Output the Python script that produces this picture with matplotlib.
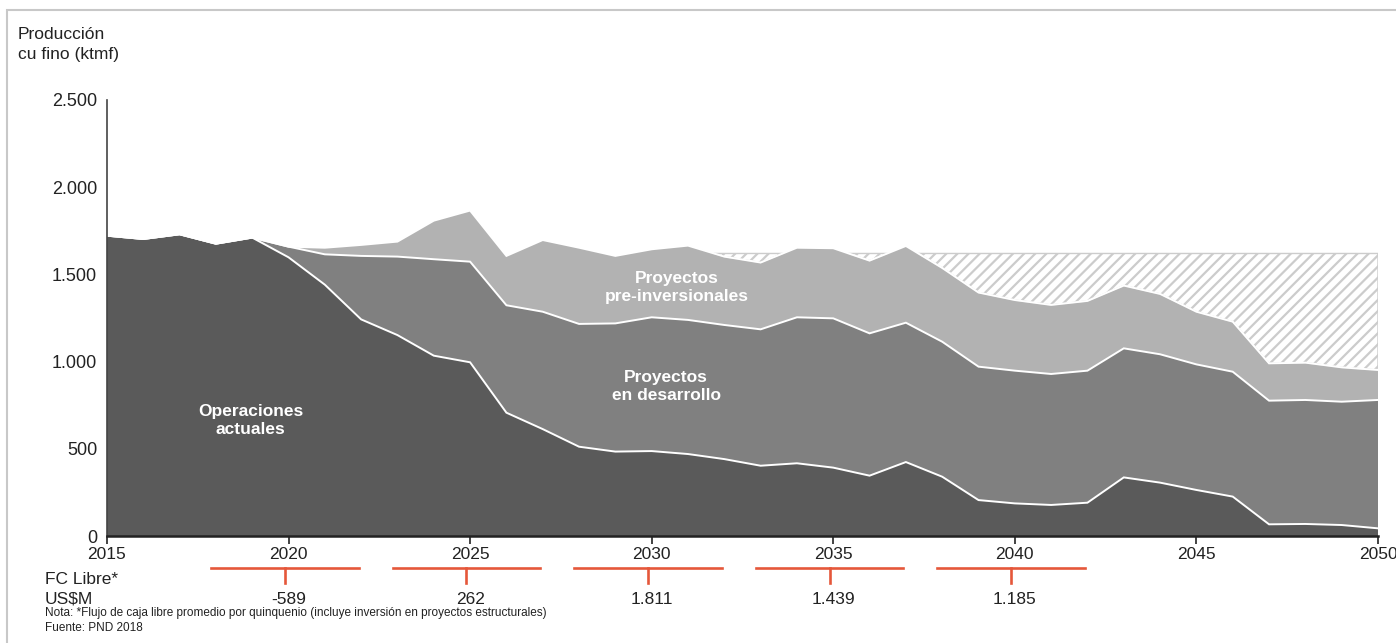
import numpy as np
import matplotlib.pyplot as plt
from matplotlib.patches import Rectangle
from matplotlib.lines import Line2D
import matplotlib.transforms as mtransforms

# Datos (ktmf)
years = np.arange(2015, 2051)
operaciones = [1722, 1703, 1730, 1676, 1711, 1598, 1441, 1242, 1152, 1034,
               996, 707, 613, 512, 484, 487, 470, 441, 403, 417,
               392, 346, 424, 340, 206, 187, 178, 191, 336, 306,
               264, 226, 67, 69, 63, 44]
desarrollo = [0, 0, 0, 0, 0, 61, 174, 364, 450, 553,
              577, 616, 673, 704, 735, 767, 769, 769, 782, 837,
              856, 816, 799, 774, 765, 761, 751, 757, 740, 736,
              720, 716, 709, 711, 707, 736]
preinversion = [0, 0, 0, 0, 0, 0, 38, 63, 86, 221,
                293, 283, 411, 437, 387, 390, 426, 392, 383, 399,
                402, 417, 440, 423, 425, 405, 396, 400, 360, 346,
                302, 287, 214, 214, 197, 172]
meta = 1620          # nivel de la zona rayada
meta_desde = 2031

# Flujo de caja libre por quinquenio
fc_years = [2020, 2025, 2030, 2035, 2040]
fc_labels = ['-589', '262', '1.811', '1.439', '1.185']

yticks = [0, 500, 1000, 1500, 2000, 2500]
ytick_labels = ['0', '500', '1.000', '1.500', '2.000', '2.500']
xticks = [2015, 2020, 2025, 2030, 2035, 2040, 2045, 2050]

plt.rcParams['font.family'] = ['Liberation Sans', 'DejaVu Sans']
plt.rcParams['hatch.linewidth'] = 1.6

colores = ['#5a5a5a', '#808080', '#b2b2b2']
rojo = '#e5573a'
texto = '#222222'

fig = plt.figure(figsize=(13.96, 6.43), dpi=100)
ax = fig.add_axes([0.0766, 0.1664, 0.9105, 0.6781])

ax.stackplot(years, operaciones, desarrollo, preinversion, colors=colores, linewidth=0)

# líneas blancas entre capas
c1 = np.array(operaciones)
c2 = c1 + np.array(desarrollo)
c3 = c2 + np.array(preinversion)
for c in (c1, c2, c3):
    ax.plot(years, c, color='white', lw=1.4, solid_joinstyle='miter')

# zona rayada hasta la meta
mask = years >= meta_desde
ax.fill_between(years[mask], c3[mask], meta, where=c3[mask] < meta, interpolate=True,
                facecolor='white', edgecolor='#cccccc', hatch='///', linewidth=1.0)

# etiquetas dentro del gráfico
txt = dict(color='white', fontweight='bold', fontsize=12.5, ha='center', va='center', linespacing=1.3)
ax.text(2018.95, 662, 'Operaciones\nactuales', **txt)
ax.text(2030.4, 857, 'Proyectos\nen desarrollo', **txt)
ax.text(2030.7, 1425, 'Proyectos\npre-inversionales', **txt)

# ejes
ax.set_xlim(2015, 2050)
ax.set_ylim(0, 2500)
ax.set_yticks(yticks)
ax.set_yticklabels(ytick_labels, fontsize=13, color=texto)
ax.set_xticks(xticks)
ax.set_xticklabels([str(x) for x in xticks], fontsize=12.5, color=texto)
ax.tick_params(axis='y', length=0, pad=7)
ax.tick_params(axis='x', length=6, width=1.2, color=texto, pad=2)
for s in ['top', 'right']:
    ax.spines[s].set_visible(False)
ax.spines['left'].set_color('#444444')
ax.spines['left'].set_linewidth(1.2)
ax.spines['bottom'].set_color(texto)
ax.spines['bottom'].set_linewidth(1.8)

# título del eje y
fig.text(18 / 1396, 1 - 27 / 643, 'Producción\ncu fino (ktmf)', fontsize=12.5,
         va='top', ha='left', linespacing=1.38, color=texto)

# flujo de caja libre bajo el eje
trans = mtransforms.blended_transform_factory(ax.transData, fig.transFigure)
y_h = 1 - 567.5 / 643
y_v = 1 - 583 / 643
y_val = 1 - 599 / 643
for yr, lab in zip(fc_years, fc_labels):
    xc = yr - 0.1
    fig.add_artist(Line2D([xc - 2.03, xc + 2.03], [y_h, y_h], transform=trans, color=rojo, lw=1.9))
    fig.add_artist(Line2D([xc, xc], [y_h, y_v], transform=trans, color=rojo, lw=1.9))
    fig.text(yr, y_val, lab, transform=trans, ha='center', va='center', fontsize=12.5, color=texto)

fig.text(45 / 1396, 1 - 579 / 643, 'FC Libre*', fontsize=12.5, va='center', color=texto)
fig.text(45 / 1396, y_val, 'US\\$M', fontsize=12.5, va='center', color=texto)
fig.text(45 / 1396, 1 - 613 / 643,
         'Nota: *Flujo de caja libre promedio por quinquenio (incluye inversión en proyectos estructurales)',
         fontsize=8.5, va='center', color=texto)
fig.text(45 / 1396, 1 - 628 / 643, 'Fuente: PND 2018', fontsize=8.5, va='center', color=texto)

# marco gris de la figura
fig.add_artist(Rectangle((7.5 / 1396, -0.1), 1.2, 1.1 - 10 / 643, transform=fig.transFigure,
                         fill=False, edgecolor='#c8c8c8', lw=1.5))

fig.savefig('out.png', dpi=100)
